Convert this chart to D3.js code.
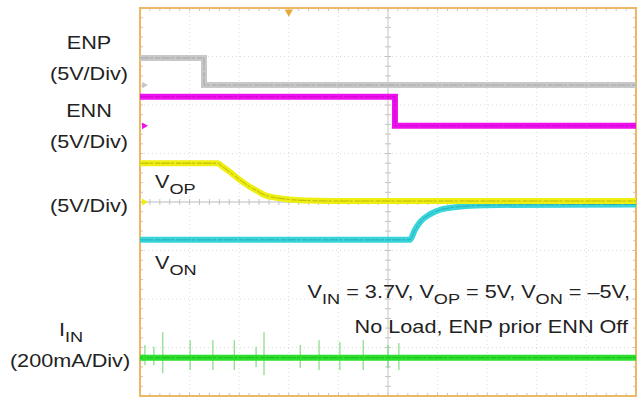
<!DOCTYPE html>
<html>
<head>
<meta charset="utf-8">
<script src="https://cdn.jsdelivr.net/npm/d3@7"></script>
<style>
  body { margin: 0; background: #fff; }
  text { font-family: "Liberation Sans", Arial, sans-serif; fill: #222; }
</style>
</head>
<body>
<div id="scope"></div>
<script>
// time axis in divisions (10 div across), levels in volts / mA
var enpTime = [0, 1.29, 1.29, 10];
var enpVolt = [2.8, 2.8, 0, 0];
var ennTime = [0, 5.14, 5.14, 10];
var ennVolt = [3.0, 3.0, 0, 0];
var vopTime = [0, 1.57, 1.65, 1.81, 2.02, 2.22, 2.36, 2.52, 2.68, 3.02, 3.37, 3.83, 10];
var vopVolt = [4.0, 4.0, 3.7, 3.1, 2.25, 1.55, 1.15, 0.7, 0.5, 0.25, 0.15, 0.1, 0.1];
var vonTime = [0, 5.44, 5.54, 5.65, 5.85, 6.05, 6.25, 6.65, 7.26, 10];
var vonVolt = [-3.9, -3.9, -2.9, -2.05, -1.25, -0.8, -0.6, -0.4, -0.3, -0.25];
var iinTime = [0, 10];
var iinCurrent = [0, 0];
var spikeTime = [0.10, 0.28, 0.46, 1.01, 1.47, 1.90, 2.34, 2.50, 3.23, 3.61, 4.03, 4.50, 5.00, 5.22];
var spikeHigh = [52, 45, 105, 72, 72, 72, 45, 105, 52, 72, 65, 72, 52, 60];
var spikeLow = [-31, -31, -64, -51, -51, -51, -39, -72, -43, -51, -51, -51, -43, -51];

var sideLabels = ["ENP", "(5V/Div)", "ENN", "(5V/Div)", "(5V/Div)", "(200mA/Div)"];
var noteLine1 = ["V", "IN", " = 3.7V, V", "OP", " = 5V, V", "ON", " = \u20135V,"];
var noteLine2 = "No Load, ENP prior ENN Off";

ScopeChart = function(_parentElement) {
    this.parentElement = _parentElement;
    this.initVis();
};

ScopeChart.prototype.initVis = function() {
    var vis = this;

    vis.width = 639;
    vis.height = 397;
    vis.stretch = 1.17;

    vis.svg = d3.select('#' + vis.parentElement)
        .append('svg')
        .attr('width', vis.width)
        .attr('height', vis.height);

    vis.x = d3.scaleLinear().domain([0, 10]).range([140, 636]);
    vis.y = d3.scaleLinear().domain([-4, 4]).range([396, 8]);

    // div offset of each channel ground, volts (or mA) per division
    vis.channels = [
        { key: "enp", t: enpTime, v: enpVolt, offset: 2.41, perDiv: 5, color: "#c8c8c8", core: "#8e8e8e", width: 6, curve: d3.curveLinear },
        { key: "enn", t: ennTime, v: ennVolt, offset: 1.57, perDiv: 5, color: "#ee10ee", core: "#b000b0", width: 6, curve: d3.curveLinear },
        { key: "von", t: vonTime, v: vonVolt, offset: 0, perDiv: 5, color: "#38d4dc", core: "#1c8f96", width: 6, curve: d3.curveMonotoneX },
        { key: "vop", t: vopTime, v: vopVolt, offset: 0, perDiv: 5, color: "#eeee10", core: "#8d8d10", width: 6, curve: d3.curveMonotoneX },
        { key: "iin", t: iinTime, v: iinCurrent, offset: -3.21, perDiv: 200, color: "#2ee02e", core: "#169a16", width: 6, curve: d3.curveLinear }
    ];

    vis.drawGrid();
    vis.wrangleData();
};

ScopeChart.prototype.drawGrid = function() {
    var vis = this;
    var g = vis.svg.append('g').attr('class', 'grid');

    d3.range(1, 10).forEach(function(d) {
        g.append('line')
            .attr('x1', vis.x(d)).attr('x2', vis.x(d))
            .attr('y1', vis.y(4)).attr('y2', vis.y(-4))
            .attr('stroke', d === 5 ? '#c4c4c4' : '#dcdcdc')
            .attr('stroke-width', 1)
            .attr('stroke-dasharray', d === 5 ? null : '1,3');
    });
    d3.range(-3, 4).forEach(function(d) {
        g.append('line')
            .attr('x1', vis.x(0)).attr('x2', vis.x(10))
            .attr('y1', vis.y(d)).attr('y2', vis.y(d))
            .attr('stroke', d === 0 ? '#bcbcbc' : '#dcdcdc')
            .attr('stroke-width', 1)
            .attr('stroke-dasharray', d === 0 ? null : '1,3');
    });

    // minor ticks on the border and centre lines
    var xt = d3.range(0, 50).map(function(i) { return i * 0.2; });
    var yt = d3.range(-20, 20).map(function(i) { return i * 0.2; });
    xt.forEach(function(t) {
        [[4, 3], [-4, -3], [0, 3], [0, -3]].forEach(function(p) {
            g.append('line')
                .attr('x1', vis.x(t)).attr('x2', vis.x(t))
                .attr('y1', vis.y(p[0])).attr('y2', vis.y(p[0]) + p[1])
                .attr('stroke', '#c4c4c4');
        });
    });
    yt.forEach(function(t) {
        [[0, 3], [10, -3], [5, 3], [5, -3]].forEach(function(p) {
            g.append('line')
                .attr('x1', vis.x(p[0])).attr('x2', vis.x(p[0]) + p[1])
                .attr('y1', vis.y(t)).attr('y2', vis.y(t))
                .attr('stroke', '#c4c4c4');
        });
    });

    vis.svg.append('rect')
        .attr('x', vis.x(0)).attr('y', vis.y(4))
        .attr('width', vis.x(10) - vis.x(0))
        .attr('height', vis.y(-4) - vis.y(4))
        .attr('fill', 'none')
        .attr('stroke', '#ebb866')
        .attr('stroke-width', 2);

    // trigger marker
    vis.svg.append('path')
        .attr('d', d3.symbol().type(d3.symbolTriangle).size(30)())
        .attr('transform', 'translate(' + vis.x(3) + ',' + (vis.y(4) + 4) + ') rotate(180)')
        .attr('fill', '#e9a83c');
};

ScopeChart.prototype.wrangleData = function() {
    var vis = this;

    vis.channels.forEach(function(c) {
        c.points = c.t.map(function(t, i) {
            return { t: t, div: c.offset + c.v[i] / c.perDiv };
        });
    });

    vis.spikes = spikeTime.map(function(t, i) {
        return { t: t, hi: -3.21 + spikeHigh[i] / 200, lo: -3.21 + spikeLow[i] / 200 };
    });

    vis.updateChart();
};

ScopeChart.prototype.updateChart = function() {
    var vis = this;

    var traces = vis.svg.append('g').attr('class', 'traces');

    traces.selectAll('.spike')
        .data(vis.spikes)
        .enter()
        .append('line')
        .attr('class', 'spike')
        .attr('x1', function(d) { return vis.x(d.t); })
        .attr('x2', function(d) { return vis.x(d.t); })
        .attr('y1', function(d) { return vis.y(d.hi); })
        .attr('y2', function(d) { return vis.y(d.lo); })
        .attr('stroke', '#6ad46a')
        .attr('stroke-width', 1);

    vis.channels.forEach(function(c) {
        var line = d3.line()
            .x(function(d) { return vis.x(d.t); })
            .y(function(d) { return vis.y(d.div); })
            .curve(c.curve);

        traces.append('path')
            .datum(c.points)
            .attr('d', line)
            .attr('fill', 'none')
            .attr('stroke', c.color)
            .attr('stroke-width', c.width);

        // darker noisy core of the trace
        traces.append('path')
            .datum(c.points)
            .attr('d', line)
            .attr('fill', 'none')
            .attr('stroke', c.core)
            .attr('stroke-width', 1)
            .attr('stroke-dasharray', '9,1,3,2,5,1')
            .attr('opacity', 0.55);

        // ground marker at left edge
        if (c.key !== 'von') {
            traces.append('path')
                .attr('d', d3.symbol().type(d3.symbolTriangle).size(20)())
                .attr('transform', 'translate(' + (vis.x(0) + 4) + ',' + vis.y(c.offset) + ') rotate(90)')
                .attr('fill', c.color);
        }
    });

    vis.drawLabels();
};

ScopeChart.prototype.addText = function(x, y, parts, anchor, size) {
    var vis = this;
    var t = vis.svg.append('text')
        .attr('transform', 'translate(' + x + ',' + y + ') scale(' + vis.stretch + ',1)')
        .attr('text-anchor', anchor)
        .style('font-size', size + 'px');
    if (typeof parts === 'string') {
        t.text(parts);
        return t;
    }
    parts.forEach(function(p, i) {
        var sub = i % 2 === 1;
        t.append('tspan')
            .attr('dy', sub ? 6 : (i === 0 ? 0 : -6))
            .style('font-size', sub ? (size - 3) + 'px' : size + 'px')
            .text(p);
    });
    return t;
};

ScopeChart.prototype.drawLabels = function() {
    var vis = this;

    vis.addText(89, 49, sideLabels[0], 'middle', 18.5);
    vis.addText(89, 80, sideLabels[1], 'middle', 18.5);
    vis.addText(89, 117, sideLabels[2], 'middle', 18.5);
    vis.addText(89, 148, sideLabels[3], 'middle', 18.5);
    vis.addText(89, 212, sideLabels[4], 'middle', 18.5);
    vis.addText(71, 336, ["I", "IN"], 'middle', 18.5);
    vis.addText(70, 367, sideLabels[5], 'middle', 18.5);

    vis.addText(155, 188, ["V", "OP"], 'start', 18.5);
    vis.addText(155, 269, ["V", "ON"], 'start', 18.5);

    vis.addText(630, 298, noteLine1, 'end', 18.5);
    vis.addText(628, 333, noteLine2, 'end', 18.5);
};

new ScopeChart('scope');
</script>
</body>
</html>
